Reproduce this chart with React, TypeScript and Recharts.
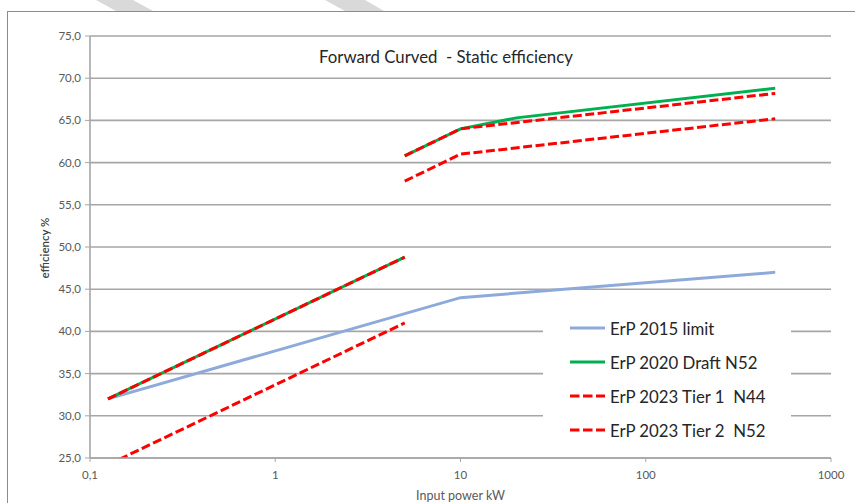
import React from "react";
import { CartesianGrid, Label, Line, LineChart, XAxis, YAxis } from "recharts";

// Input power (kW) vs minimum static efficiency (%), forward curved fans.
// A null row breaks the line between the two formula ranges.
const erp2015 = [
  { x: 0.125, y: 32.0 },
  { x: 10, y: 44.0 },
  { x: 500, y: 47.0 },
];

const erp2020DraftN52 = [
  { x: 0.125, y: 32.0 },
  { x: 5, y: 48.8 },
  { x: 5, y: null },
  { x: 5, y: 60.8 },
  { x: 10, y: 64.0 },
  { x: 20, y: 65.3 },
  { x: 500, y: 68.8 },
];

const erp2023Tier1N44 = [
  { x: 0.125, y: 24.2 },
  { x: 5, y: 41.0 },
  { x: 5, y: null },
  { x: 5, y: 57.8 },
  { x: 10, y: 61.0 },
  { x: 500, y: 65.2 },
];

const erp2023Tier2N52 = [
  { x: 0.125, y: 32.0 },
  { x: 5, y: 48.8 },
  { x: 5, y: null },
  { x: 5, y: 60.8 },
  { x: 10, y: 64.0 },
  { x: 500, y: 68.2 },
];

const xTicks = [0.1, 1, 10, 100, 1000];
const yTicks = [25, 30, 35, 40, 45, 50, 55, 60, 65, 70, 75];

const BLUE = "#8eaadb";
const GREEN = "#00b050";
const RED = "#ff0000";
const GRID = "#a6a6a6";
const TEXT = "#595959";
const DASH = "9 3.5";

const legendItems = [
  { name: "ErP 2015 limit", color: BLUE, dashed: false },
  { name: "ErP 2020 Draft N52", color: GREEN, dashed: false },
  { name: "ErP 2023 Tier 1  N44", color: RED, dashed: true },
  { name: "ErP 2023 Tier 2  N52", color: RED, dashed: true },
];

const fmtY = (v: number) => v.toFixed(1).replace(".", ",");
const fmtX = (v: number) => (v < 1 ? String(v).replace(".", ",") : String(v));

export default function App() {
  return (
    <div
      style={{
        position: "absolute",
        left: 0,
        top: 0,
        width: 855,
        height: 503,
        background: "#fff",
        fontFamily: "Lato, 'Open Sans', sans-serif",
        overflow: "hidden",
      }}
    >
      {/* light diagonal bands along the top edge */}
      <svg width={855} height={14} style={{ position: "absolute", left: 0, top: 0 }}>
        <polygon points="96,0 133,0 153,11 116,11" fill="#d9d9d9" />
        <polygon points="325,0 365,0 384,11 345,11" fill="#d9d9d9" />
      </svg>
      {/* chart frame */}
      <div
        style={{
          position: "absolute",
          left: 7,
          top: 11,
          width: 860,
          height: 500,
          borderTop: "1px solid #8c8c8c",
          borderLeft: "1px solid #8c8c8c",
        }}
      />

      <LineChart
        width={855}
        height={503}
        margin={{ top: 36, right: 24, left: 0, bottom: 0 }}
        style={{ position: "absolute", left: 0, top: 0 }}
      >
        <CartesianGrid horizontal vertical={false} stroke={GRID} strokeWidth={1.6} />
        <XAxis
          dataKey="x"
          type="number"
          scale="log"
          domain={[0.1, 1000]}
          ticks={xTicks}
          tickFormatter={fmtX}
          allowDataOverflow
          height={45}
          tick={{ fontSize: 11.5, fill: TEXT }}
          tickSize={4}
          tickMargin={9}
          stroke={GRID}
          axisLine={{ stroke: GRID, strokeWidth: 1.6 }}
          tickLine={{ stroke: GRID }}
        >
          <Label value="Input power kW" position="insideBottom" offset={3} fontSize={12.5} fill={TEXT} />
        </XAxis>
        <YAxis
          type="number"
          domain={[25, 75]}
          ticks={yTicks}
          tickFormatter={fmtY}
          allowDataOverflow
          width={90}
          tick={{ fontSize: 11.5, fill: TEXT }}
          tickSize={5}
          tickMargin={4}
          axisLine={{ stroke: GRID, strokeWidth: 1.6 }}
          tickLine={{ stroke: GRID }}
        >
          <Label
            content={() => (
              <text
                x={44}
                y={248}
                transform="rotate(-90 44 248)"
                textAnchor="middle"
                dominantBaseline="central"
                fontSize={11.5}
                fontWeight={600}
                fill="#404040"
              >
                efficiency %
              </text>
            )}
          />
        </YAxis>

        <Line data={erp2015} dataKey="y" stroke={BLUE} strokeWidth={3} dot={false} isAnimationActive={false} />
        <Line data={erp2020DraftN52} dataKey="y" stroke={GREEN} strokeWidth={3} dot={false} isAnimationActive={false} />
        <Line
          data={erp2023Tier1N44}
          dataKey="y"
          stroke={RED}
          strokeWidth={3}
          strokeDasharray={DASH}
          dot={false}
          isAnimationActive={false}
        />
        <Line
          data={erp2023Tier2N52}
          dataKey="y"
          stroke={RED}
          strokeWidth={3}
          strokeDasharray={DASH}
          dot={false}
          isAnimationActive={false}
        />
      </LineChart>

      <div
        style={{
          position: "absolute",
          left: 319,
          top: 46,
          fontSize: 16.8,
          color: "#262626",
          whiteSpace: "pre",
        }}
      >
        Forward Curved  - Static efficiency
      </div>

      {/* legend panel over the plot */}
      <div
        style={{
          position: "absolute",
          left: 543,
          top: 305,
          width: 248,
          height: 140,
          background: "#fff",
        }}
      >
        {legendItems.map((it, i) => (
          <div
            key={it.name}
            style={{
              position: "absolute",
              left: 27,
              top: 12 + i * 34,
              height: 22,
              display: "flex",
              alignItems: "center",
              whiteSpace: "pre",
              fontSize: 16.8,
              color: "#262626",
            }}
          >
            <svg width={38} height={6} style={{ marginRight: 2 }}>
              <line
                x1={0}
                y1={3}
                x2={35}
                y2={3}
                stroke={it.color}
                strokeWidth={3}
                strokeDasharray={it.dashed ? "9.5 3.5" : undefined}
              />
            </svg>
            {it.name}
          </div>
        ))}
      </div>
    </div>
  );
}
